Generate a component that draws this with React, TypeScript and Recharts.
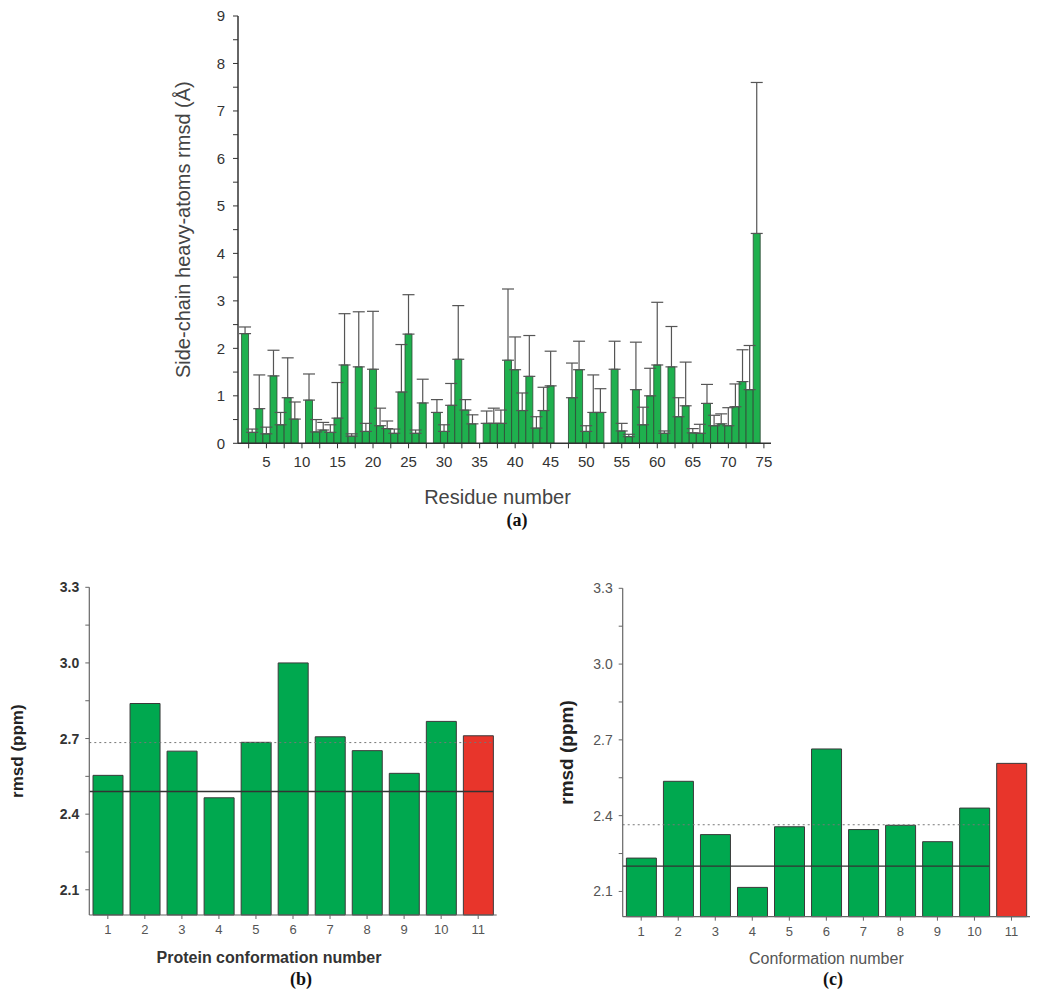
import React from "react";
import { BarChart, Bar, XAxis, YAxis, ErrorBar, ReferenceLine, Cell } from "recharts";

// (a) side-chain rmsd per residue (residues 1, 10, 28, 35, 46, 47, 53 have no bar)
const residues = [
  2, 3, 4, 5, 6, 7, 8, 9, 11, 12, 13, 14, 15, 16, 17, 18, 19, 20, 21, 22, 23, 24, 25, 26, 27,
  29, 30, 31, 32, 33, 34, 36, 37, 38, 39, 40, 41, 42, 43, 44, 45, 48, 49, 50, 51, 52,
  54, 55, 56, 57, 58, 59, 60, 61, 62, 63, 64, 65, 66, 67, 68, 69, 70, 71, 72, 73, 74,
];
const sideChainRmsd = [
  2.31, 0.23, 0.73, 0.2, 1.42, 0.39, 0.96, 0.51, 0.91, 0.24, 0.28, 0.23, 0.53, 1.65, 0.15, 1.61, 0.25, 1.56, 0.37, 0.31, 0.21, 1.08, 2.3, 0.21, 0.85,
  0.65, 0.25, 0.8, 1.77, 0.7, 0.41, 0.42, 0.42, 0.42, 1.75, 1.55, 0.69, 1.41, 0.32, 0.69, 1.21, 0.96, 1.55, 0.25, 0.65, 0.65,
  1.56, 0.26, 0.14, 1.13, 0.39, 1.0, 1.65, 0.21, 1.61, 0.56, 0.79, 0.22, 0.21, 0.84, 0.37, 0.41, 0.37, 0.77, 1.3, 1.13, 4.42,
];
const sideChainSd = [
  0.14, 0.07, 0.71, 0.14, 0.54, 0.26, 0.84, 0.36, 0.55, 0.26, 0.16, 0.16, 0.75, 1.08, 0.05, 1.16, 0.17, 1.22, 0.37, 0.16, 0.09, 1.0, 0.83, 0.07, 0.5,
  0.27, 0.14, 0.46, 1.13, 0.22, 0.19, 0.26, 0.32, 0.28, 1.5, 0.69, 0.37, 0.86, 0.24, 0.49, 0.73, 0.73, 0.6, 0.12, 0.79, 0.5,
  0.59, 0.16, 0.05, 1.0, 0.37, 0.58, 1.32, 0.05, 0.85, 0.4, 0.92, 0.09, 0.19, 0.4, 0.22, 0.21, 0.38, 0.48, 0.67, 0.93, 3.18,
];
const residueTicks = [2.5, 5, 7.5, 10, 12.5, 15, 17.5, 20, 22.5, 25, 27.5, 30, 32.5, 35, 37.5, 40, 42.5, 45, 47.5, 50, 52.5, 55, 57.5, 60, 62.5, 65, 67.5, 70, 72.5, 75];
const rmsdTicks = [0, 0.5, 1, 1.5, 2, 2.5, 3, 3.5, 4, 4.5, 5, 5.5, 6, 6.5, 7, 7.5, 8, 8.5, 9];

// (b) and (c)
const conformations = ["1", "2", "3", "4", "5", "6", "7", "8", "9", "10", "11"];
const proteinRmsd = [2.554, 2.839, 2.65, 2.465, 2.685, 3.0, 2.707, 2.652, 2.562, 2.768, 2.711];
const proteinSolid = 2.49;
const proteinDotted = 2.684;
const confRmsd = [2.232, 2.536, 2.325, 2.116, 2.356, 2.664, 2.345, 2.362, 2.297, 2.43, 2.607];
const confSolid = 2.2;
const confDotted = 2.364;
const ppmTicks = [2.1, 2.25, 2.4, 2.55, 2.7, 2.85, 3.0, 3.15, 3.3];

const GREEN = "#1fb04e";
const RED = "#e8352b";
const SANS = "'Liberation Sans', Arial, sans-serif";

const residueData = residues.map((r, i) => ({
  residue: r,
  rmsd: sideChainRmsd[i],
  err: [0, sideChainSd[i]],
}));
const proteinData = conformations.map((c, i) => ({ conf: c, idx: i + 1, rmsd: proteinRmsd[i] }));
const confData = conformations.map((c, i) => ({ conf: c, idx: i + 1, rmsd: confRmsd[i] }));

const figLabel: React.CSSProperties = {
  position: "absolute",
  fontFamily: "'Liberation Serif', 'Times New Roman', serif",
  fontWeight: "bold",
  fontSize: 18,
  lineHeight: "20px",
  color: "#111",
  transform: "translateX(-50%)",
};

function ConformationChart({ data, solid, dotted, lineEnd, boldTicks, xTitle, left, marginLeft, marginTop, marginBottom, marginRight, yTitleDx, yTitleSize }: any) {
  const tickColor = boldTicks ? "#333" : "#555";
  return (
    <div style={{ position: "absolute", left, top: 560 }}>
      <BarChart width={520} height={440} data={data} margin={{ top: marginTop, right: marginRight, left: marginLeft, bottom: marginBottom }} barCategoryGap="10%">
        <XAxis dataKey="conf" height={30} axisLine={{ stroke: "#666", strokeWidth: 1.2 }} tickLine={{ stroke: "#666" }} tickSize={4} tickMargin={6}
          tick={{ fill: "#555", fontSize: 13, fontFamily: SANS }} interval={0}
          label={{ value: xTitle, position: "center", dy: 27, dx: boldTicks ? -24 : 0, style: { fill: boldTicks ? "#333" : "#555", fontSize: 16, fontWeight: boldTicks ? "bold" : "normal", fontFamily: SANS } }} />
        <XAxis xAxisId="ref" dataKey="idx" type="number" domain={[0.5, 11.5]} allowDataOverflow hide />
        <YAxis domain={[2.0, 3.3]} ticks={ppmTicks} width={50} axisLine={{ stroke: "#666", strokeWidth: 1.2 }} tickLine={{ stroke: "#666" }} tickSize={4} tickMargin={6}
          tickFormatter={(v: number) => (Math.round(v * 100) % 30 === 0 ? v.toFixed(1) : "")}
          tick={{ fill: tickColor, fontSize: 14, fontWeight: boldTicks ? "bold" : "normal", fontFamily: SANS }}
          label={{ value: "rmsd (ppm)", angle: -90, position: "center", dx: yTitleDx, style: { fill: "#222", fontSize: yTitleSize, fontWeight: "bold", fontFamily: SANS } }} />
        <ReferenceLine xAxisId="ref" ifOverflow="visible" segment={[{ x: 0.5, y: dotted }, { x: lineEnd, y: dotted }]} stroke="#777" strokeDasharray="2 3" />
        <Bar dataKey="rmsd" stroke="#3a3a3a" strokeWidth={1} isAnimationActive={false}>
          {data.map((d: any, i: number) => (
            <Cell key={d.conf} fill={i === data.length - 1 ? RED : "#00a84f"} />
          ))}
        </Bar>
        <ReferenceLine xAxisId="ref" ifOverflow="visible" segment={[{ x: 0.5, y: solid }, { x: lineEnd, y: solid }]} stroke="#333" strokeWidth={1.3} />
      </BarChart>
    </div>
  );
}

export default function App() {
  return (
    <div style={{ position: "absolute", left: 0, top: 0, width: 1050, height: 1003, background: "#fff" }}>
      <div style={{ position: "absolute", left: 0, top: 0 }}>
        <BarChart width={800} height={530} data={residueData} margin={{ top: 16, right: 29, left: 178, bottom: 56.7 }}>
          <XAxis dataKey="residue" type="number" domain={[1, 76]} ticks={residueTicks} height={30}
            axisLine={{ stroke: "#333", strokeWidth: 1.5 }} tickLine={{ stroke: "#333" }} tickSize={5} tickMargin={8}
            tickFormatter={(v: number) => (v % 5 === 0 ? String(v) : "")}
            tick={{ fill: "#333", fontSize: 15, fontFamily: SANS }}
            label={{ value: "Residue number", position: "center", dy: 39, dx: -7, style: { fill: "#444", fontSize: 20, fontFamily: SANS } }} />
          <YAxis domain={[0, 9]} ticks={rmsdTicks} width={60}
            axisLine={{ stroke: "#333", strokeWidth: 1.5 }} tickLine={{ stroke: "#333" }} tickSize={5} tickMargin={8}
            tickFormatter={(v: number) => (v % 1 === 0 ? String(v) : "")}
            tick={{ fill: "#333", fontSize: 15, fontFamily: SANS }}
            label={{ value: "Side-chain heavy-atoms rmsd (Å)", angle: -90, position: "center", dx: -25, style: { fill: "#444", fontSize: 20, fontFamily: SANS } }} />
          <Bar dataKey="rmsd" barSize={7} fill={GREEN} stroke="#2e4a36" strokeWidth={0.8} isAnimationActive={false}>
            <ErrorBar dataKey="err" direction="y" width={6} stroke="#555" strokeWidth={1.2} isAnimationActive={false} />
          </Bar>
        </BarChart>
      </div>
      <div style={{ ...figLabel, left: 517, top: 510 }}>(a)</div>

      <ConformationChart data={proteinData} solid={proteinSolid} dotted={proteinDotted} lineEnd={11.4} boldTicks
        xTitle="Protein conformation number" left={0} marginLeft={39.3} marginRight={23.3} marginTop={27.3} marginBottom={55}
        yTitleDx={-47} yTitleSize={17} />
      <div style={{ ...figLabel, left: 301, top: 969 }}>(b)</div>

      <ConformationChart data={confData} solid={confSolid} dotted={confDotted} lineEnd={10.4} boldTicks={false}
        xTitle="Conformation number" left={530} marginLeft={42.7} marginRight={20} marginTop={28.3} marginBottom={53.3}
        yTitleDx={-31} yTitleSize={19} />
      <div style={{ ...figLabel, left: 833, top: 969 }}>(c)</div>
    </div>
  );
}
